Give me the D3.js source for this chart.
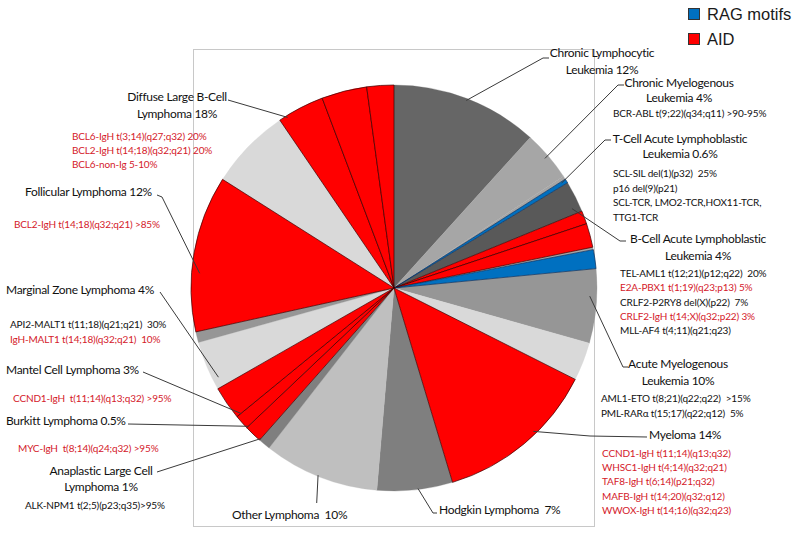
<!DOCTYPE html>
<html>
<head>
<meta charset="utf-8">
<script src="https://cdn.jsdelivr.net/npm/d3@7"></script>
<style>
    body { margin: 0; background: #fff; }
    svg { display: block; font-family: Lato, "Open Sans", sans-serif; }
    .lbl { font-size: 12px; letter-spacing: -0.3px; fill: #111; white-space: pre; }
    .sub { font-size: 10px; letter-spacing: -0.15px; fill: #111; white-space: pre; }
    .sub.aid { fill: #d4202a; }
    .legend text { font-family: "Liberation Sans", Arial, sans-serif; font-size: 16.5px; fill: #1a1a1a; }
</style>
</head>
<body>
<svg id="chart"></svg>
<script>
// pie slices, clockwise from 12 o'clock (share of the circle, %)
const sliceDisease = ["CLL", "CML", "T-ALL", "T-ALL", "B-ALL", "B-ALL", "B-ALL", "B-ALL", "B-ALL",
    "AML", "AML", "Myeloma", "Hodgkin", "Other", "ALCL", "Burkitt", "Mantel", "Marginal", "Marginal",
    "Marginal", "Follicular", "DLBCL", "DLBCL", "DLBCL", "DLBCL"];
const sliceMotif = ["-", "-", "-", "RAG", "-", "AID", "AID", "-", "RAG",
    "-", "-", "AID", "-", "-", "-", "AID", "AID", "AID", "-",
    "-", "AID", "-", "AID", "AID", "AID"];
const sliceValues = [11.7, 4.0, 0.28, 0.33, 2.5, 1.05, 1.9, 0.2, 1.5,
    5.9, 3.05, 12.9, 6.0, 9.2, 0.97, 1.4, 1.15, 2.65, 3.95,
    0.85, 12.45, 6.5, 3.75, 3.6, 2.15];

// legend
const legendKeys = ["RAG motifs", "AID"];

// label texts
const labelTitles = [
    ["Chronic Lymphocytic", "Leukemia 12%"],
    ["Chronic Myelogenous", "Leukemia 4%"],
    ["T-Cell Acute Lymphoblastic", "Leukemia 0.6%"],
    ["B-Cell Acute Lymphoblastic", "Leukemia 4%"],
    ["Acute Myelogenous", "Leukemia 10%"],
    ["Myeloma 14%"],
    ["Hodgkin Lymphoma  7%"],
    ["Other Lymphoma  10%"],
    ["Anaplastic Large Cell", "Lymphoma 1%"],
    ["Burkitt Lymphoma 0.5%"],
    ["Mantel Cell Lymphoma 3%"],
    ["Marginal Zone Lymphoma 4%"],
    ["Follicular Lymphoma 12%"],
    ["Diffuse Large B-Cell", "Lymphoma 18%"]
];
// translocation notes: [text, motif]
const labelNotes = [
    [],
    [["BCR-ABL t(9;22)(q34;q11) >90-95%", "-"]],
    [["SCL-SIL del(1)(p32)  25%", "-"], ["p16 del(9)(p21)", "-"],
     ["SCL-TCR, LMO2-TCR,HOX11-TCR,", "-"], ["TTG1-TCR", "-"]],
    [["TEL-AML1 t(12;21)(p12;q22)  20%", "-"], ["E2A-PBX1 t(1;19)(q23;p13) 5%", "AID"],
     ["CRLF2-P2RY8 del(X)(p22)  7%", "-"], ["CRLF2-IgH t(14;X)(q32;p22) 3%", "AID"],
     ["MLL-AF4 t(4;11)(q21;q23)", "-"]],
    [["AML1-ETO t(8;21)(q22;q22)  >15%", "-"], ["PML-RARα t(15;17)(q22;q12)  5%", "-"]],
    [["CCND1-IgH t(11;14)(q13;q32)", "AID"], ["WHSC1-IgH t(4;14)(q32;q21)", "AID"],
     ["TAF8-IgH t(6;14)(p21;q32)", "AID"], ["MAFB-IgH t(14;20)(q32;q12)", "AID"],
     ["WWOX-IgH t(14;16)(q32;q23)", "AID"]],
    [],
    [],
    [["ALK-NPM1 t(2;5)(p23;q35)>95%", "-"]],
    [["MYC-IgH  t(8;14)(q24;q32) >95%", "AID"]],
    [["CCND1-IgH  t(11;14)(q13;q32) >95%", "AID"]],
    [["API2-MALT1 t(11;18)(q21;q21)  30%", "-"], ["IgH-MALT1 t(14;18)(q32;q21)  10%", "AID"]],
    [["BCL2-IgH t(14;18)(q32;q21) >85%", "AID"]],
    [["BCL6-IgH t(3;14)(q27;q32) 20%", "AID"], ["BCL2-IgH t(14;18)(q32;q21) 20%", "AID"],
     ["BCL6-non-Ig 5-10%", "AID"]]
];

function drawChart() {
    var width = 800, height = 535;
    var cx = 394, cy = 288, radius = 203;

    const svg = d3.select("#chart")
        .attr("width", width)
        .attr("height", height)
        .attr("viewBox", "0 0 " + width + " " + height);

    // plot area frame
    svg.append("rect")
        .attr("x", 193.5).attr("y", 49.5)
        .attr("width", 401).attr("height", 477)
        .attr("fill", "none")
        .attr("stroke", "#c8c8c8");

    // gray tones for the non-motif parts of each disease (in order of appearance)
    const grayTones = {
        "CLL": ["#666666"], "CML": ["#a6a6a6"], "T-ALL": ["#a6a6a6"],
        "B-ALL": ["#595959", "#a6a6a6"], "AML": ["#969696", "#d9d9d9"],
        "Hodgkin": ["#7f7f7f"], "Other": ["#bfbfbf"], "ALCL": ["#7f7f7f"],
        "Marginal": ["#d9d9d9", "#969696"], "DLBCL": ["#d9d9d9"]
    };
    const motifColor = d3.scaleOrdinal(["RAG", "AID"], ["#0070c0", "#ff0000"]);
    const motifStroke = d3.scaleOrdinal(["RAG", "AID"], ["#0b2e5a", "#3a0000"]);

    const I = d3.range(sliceValues.length);
    const seen = {};
    const fills = I.map(i => {
        if (sliceMotif[i] !== "-") return motifColor(sliceMotif[i]);
        const d = sliceDisease[i];
        seen[d] = (seen[d] || 0);
        return grayTones[d][seen[d]++];
    });

    const pie = d3.pie().sort(null).value(i => sliceValues[i]);
    const arcs = pie(I);
    const arc = d3.arc().innerRadius(0).outerRadius(radius);

    const g = svg.append("g").attr("transform", `translate(${cx},${cy})`);

    // gray parts first, motif slices with outline on top
    g.selectAll("path.gray")
        .data(arcs.filter(a => sliceMotif[a.data] === "-"))
        .join("path")
        .attr("class", "gray")
        .attr("d", arc)
        .attr("fill", a => fills[a.data])
        .attr("stroke", a => fills[a.data])
        .attr("stroke-width", 0.3);

    g.selectAll("path.motif")
        .data(arcs.filter(a => sliceMotif[a.data] !== "-"))
        .join("path")
        .attr("class", "motif")
        .attr("d", arc)
        .attr("fill", a => fills[a.data])
        .attr("stroke", a => motifStroke(sliceMotif[a.data]))
        .attr("stroke-width", 0.7)
        .attr("stroke-linejoin", "round");

    // label layout: title anchor, note anchor, leader start points, target slice
    const layout = [
        { tx: 602, ty: [57, 74], anchor: "middle", nx: 0, ny: [], lead: [[549, 58], [543, 58]], s: 0, f: 0.5, r: 0.99 },
        { tx: 679, ty: [86.5, 101.5], anchor: "middle", nx: 613, ny: [116.5], lead: [[624, 85], [618, 85]], s: 1, f: 0.5, r: 0.98 },
        { tx: 680, ty: [143, 158], anchor: "middle", nx: 613, ny: [177, 191.5, 206, 220.5], lead: [[611, 140], [605, 140]], s: 3, f: 0.3, r: 0.975 },
        { tx: 698, ty: [243, 259.5], anchor: "middle", nx: 620, ny: [277, 291, 305.5, 320, 334], lead: [[626, 241], [620, 241]], s: 4, f: 0.8, r: 0.96 },
        { tx: 678, ty: [368, 385], anchor: "middle", nx: 601, ny: [402, 416.5], lead: [[628, 367], [623, 367]], s: 9, f: 0.37, r: 0.965 },
        { tx: 649, ty: [439], anchor: "start", nx: 602, ny: [457, 471, 485, 499.5, 514], lead: [[647, 437], [590, 436]], s: 11, f: 0.41, r: 0.985 },
        { tx: 439, ty: [514], anchor: "start", nx: 0, ny: [], lead: [[437, 513], [433, 513]], s: 12, f: 0.46, r: 0.995 },
        { tx: 232, ty: [519], anchor: "start", nx: 0, ny: [], lead: [[316.7, 503]], s: 13, f: 0.52, r: 0.995 },
        { tx: 101, ty: [474.5, 491], anchor: "middle", nx: 25, ny: [509], lead: [[157, 472]], s: 14, f: 1, r: 0.99 },
        { tx: 6, ty: [425], anchor: "start", nx: 18, ny: [452], lead: [[128, 424]], s: 15, f: 1, r: 0.99 },
        { tx: 6, ty: [374], anchor: "start", nx: 13, ny: [402], lead: [[143, 372]], s: 16, f: 1, r: 0.975 },
        { tx: 6, ty: [293.5], anchor: "start", nx: 10, ny: [328, 343], lead: [[160, 292]], s: 18, f: 0.2, r: 0.97 },
        { tx: 25, ty: [196], anchor: "start", nx: 14, ny: [228], lead: [[157, 195], [162, 197]], s: 20, f: 0.375, r: 0.96 },
        { tx: 177, ty: [101, 118], anchor: "middle", nx: 72, ny: [140, 154, 168], lead: [[228, 100]], s: 22, f: 0.17, r: 0.99 }
    ];

    // leader lines
    const leader = d3.line();
    svg.append("g")
        .attr("fill", "none")
        .attr("stroke", "#3a3a3a")
        .attr("stroke-width", 1)
        .selectAll("path")
        .data(layout)
        .join("path")
        .attr("d", L => {
            const a = arcs[L.s];
            const ang = a.startAngle + (a.endAngle - a.startAngle) * L.f;
            const [px, py] = d3.pointRadial(ang, radius * L.r);
            return leader(L.lead.concat([[cx + px, cy + py]]));
        });

    // titles and translocation notes
    const labels = svg.append("g");
    layout.forEach((L, k) => {
        labelTitles[k].forEach((t, j) => {
            labels.append("text")
                .attr("class", "lbl")
                .attr("x", L.tx)
                .attr("y", L.ty[j])
                .attr("text-anchor", L.anchor)
                .text(t);
        });
        labelNotes[k].forEach(([t, m], j) => {
            labels.append("text")
                .attr("class", m === "AID" ? "sub aid" : "sub")
                .attr("x", L.nx)
                .attr("y", L.ny[j])
                .text(t);
        });
    });

    // legend
    const legend = svg.append("g").attr("class", "legend");
    legendKeys.forEach((k, i) => {
        legend.append("rect")
            .attr("x", 688.5).attr("y", 8.5 + i * 25)
            .attr("width", 11).attr("height", 11)
            .attr("fill", motifColor(i === 0 ? "RAG" : "AID"))
            .attr("stroke", "#333");
        legend.append("text")
            .attr("x", 707).attr("y", 19.5 + i * 25)
            .text(k);
    });
}

drawChart();
</script>
</body>
</html>
